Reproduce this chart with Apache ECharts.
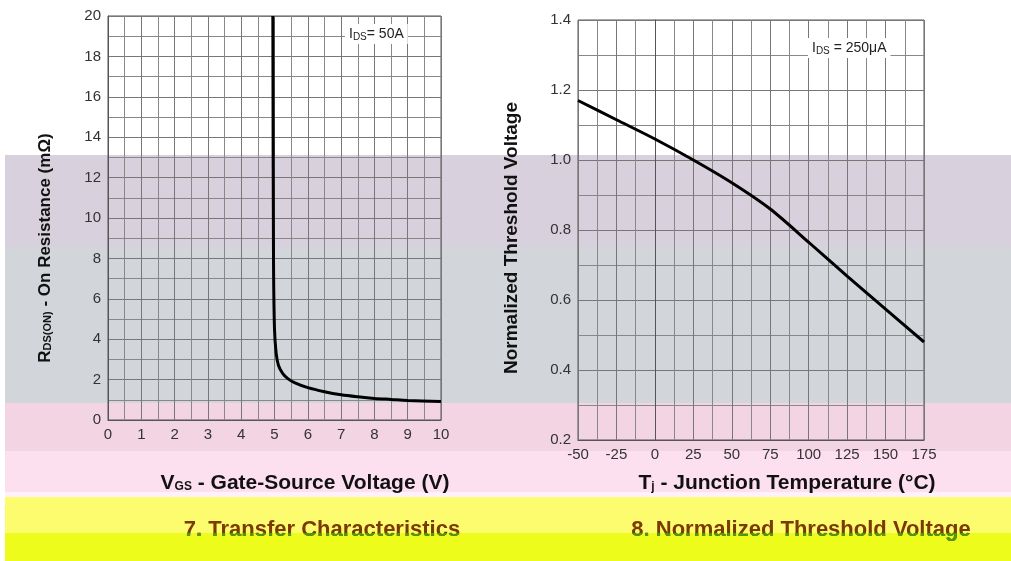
<!DOCTYPE html>
<html>
<head>
<meta charset="utf-8">
<script src="https://cdn.jsdelivr.net/npm/echarts@6/dist/echarts.min.js"></script>
<style>
  html, body { margin: 0; padding: 0; background: #fff; }
  #chart { width: 1011px; height: 561px; }
</style>
</head>
<body>
<div id="chart"></div>
<script>
// fig 7: on resistance vs gate-source voltage
const vgs = [4.95, 4.97, 5.0, 5.05, 5.12, 5.25, 5.4, 5.6, 6.0, 6.5, 7.0, 7.5, 8.0, 8.5, 9.0, 10.0];
const rdsOn = [20, 8, 4.5, 3.3, 2.7, 2.3, 2.05, 1.85, 1.6, 1.4, 1.25, 1.15, 1.07, 1.02, 0.97, 0.92];

// fig 8: normalized threshold voltage vs junction temperature
const tj = [-50, -25, 0, 25, 50, 75, 100, 125, 150, 175];
const vthNorm = [1.17, 1.115, 1.06, 1.0, 0.935, 0.86, 0.765, 0.668, 0.574, 0.48];

const titles = ['7. Transfer Characteristics', '8. Normalized Threshold Voltage'];

// background strips
const bands = [
  [155, 247, '#d8d0dc'],
  [247, 403, '#d2d5da'],
  [403, 451, '#f2d4e2'],
  [451, 492, '#fde0f0'],
  [492, 497, '#fff0fa'],
  [497, 533, '#fdfc6e'],
  [533, 561, '#eefc1c']
];

const font = '"Liberation Sans", Arial, sans-serif';
const chart = echarts.init(document.getElementById('chart'));

function xAx(gridIndex, min, max, interval) {
  return {
    type: 'value', gridIndex, min, max, interval,
    axisLine: { show: true, lineStyle: { color: '#555', width: 1 } },
    axisTick: { show: false },
    axisLabel: { color: '#333', fontSize: 15, fontFamily: font, margin: 7 },
    splitLine: { show: true, lineStyle: { color: '#777', width: 1 } },
    minorTick: { show: true, splitNumber: 2, length: 0 },
    minorSplitLine: { show: true, lineStyle: { color: '#888', width: 1 } }
  };
}
function yAx(gridIndex, min, max, interval, fmt) {
  return {
    type: 'value', gridIndex, min, max, interval,
    axisLine: { show: true, lineStyle: { color: '#555', width: 1 } },
    axisTick: { show: false },
    axisLabel: { color: '#333', fontSize: 15, fontFamily: font, margin: 7, formatter: fmt },
    splitLine: { show: true, lineStyle: { color: '#777', width: 1 } },
    minorTick: { show: true, splitNumber: 2, length: 0 },
    minorSplitLine: { show: true, lineStyle: { color: '#888', width: 1 } }
  };
}

// titles: brown on the yellow strip, green on the lime strip
function titleText(x, text) {
  return [
    { type: 'text', z: 100, x: x, y: 530, style: {
        text: text, fill: '#7a3a00', font: 'bold 22px ' + font, align: 'center', verticalAlign: 'middle' } },
    { type: 'group', z: 101, clipPath: { type: 'rect', shape: { x: -600, y: 3, width: 1200, height: 40 } },
      x: x, y: 530, children: [
        { type: 'text', z: 101, x: 0, y: 0, style: {
            text: text, fill: '#4c9a10', font: 'bold 22px ' + font, align: 'center', verticalAlign: 'middle' } }
      ] }
  ];
}

const sub = { fontSize: 12, fontWeight: 'bold', fontFamily: font, fill: '#111', padding: [7, 0, 0, 0] };

const graphics = bands.map(b => ({
  type: 'rect', z: -10, silent: true,
  shape: { x: 5, y: b[0], width: 1006, height: b[1] - b[0] },
  style: { fill: b[2] }
}));

graphics.push(
  { type: 'text', z: 100, x: 345, y: 24, style: {
      text: 'I{s|DS}= 50A', fill: '#222', font: '14px ' + font, backgroundColor: '#fff', padding: [2, 4],
      rich: { s: { fontSize: 10, verticalAlign: 'bottom', padding: [6, 0, 0, 0], fill: '#222', fontFamily: font } } } },
  { type: 'text', z: 100, x: 808, y: 38, style: {
      text: 'I{s|DS} = 250μA', fill: '#222', font: '14px ' + font, backgroundColor: '#fff', padding: [2, 4],
      rich: { s: { fontSize: 10, verticalAlign: 'bottom', padding: [6, 0, 0, 0], fill: '#222', fontFamily: font } } } },
  { type: 'text', z: 100, x: 45, y: 248, rotation: Math.PI / 2, style: {
      text: 'R{s|DS(ON)} - On Resistance (mΩ)', fill: '#111', font: 'bold 17px ' + font,
      align: 'center', verticalAlign: 'middle',
      rich: { s: { fontSize: 11, fontWeight: 'bold', fontFamily: font, fill: '#111', padding: [6, 0, 0, 0] } } } },
  { type: 'text', z: 100, x: 512, y: 238, rotation: Math.PI / 2, style: {
      text: 'Normalized Threshold Voltage', fill: '#111', font: 'bold 19px ' + font,
      align: 'center', verticalAlign: 'middle' } },
  { type: 'text', z: 100, x: 305, y: 483, style: {
      text: 'V{s|GS} - Gate-Source Voltage (V)', fill: '#111', font: 'bold 21px ' + font,
      align: 'center', verticalAlign: 'middle', rich: { s: sub } } },
  { type: 'text', z: 100, x: 787, y: 483, style: {
      text: 'T{s|j} - Junction Temperature (°C)', fill: '#111', font: 'bold 21px ' + font,
      align: 'center', verticalAlign: 'middle', rich: { s: sub } } },
  ...titleText(322, titles[0]),
  ...titleText(801, titles[1])
);

const option = {
  backgroundColor: '#fff',
  animation: false,
  grid: [
    { left: 108, top: 16, width: 333, height: 404, show: true, borderColor: '#555', borderWidth: 1 },
    { left: 578, top: 20, width: 346, height: 420, show: true, borderColor: '#555', borderWidth: 1 }
  ],
  xAxis: [ xAx(0, 0, 10, 1), xAx(1, -50, 175, 25) ],
  yAxis: [ yAx(0, 0, 20, 2), yAx(1, 0.2, 1.4, 0.2, v => v.toFixed(1)) ],
  series: [
    { type: 'line', xAxisIndex: 0, yAxisIndex: 0, data: vgs.map((v, i) => [v, rdsOn[i]]),
      smooth: 0.3, symbol: 'none', lineStyle: { color: '#000', width: 3 } },
    { type: 'line', xAxisIndex: 1, yAxisIndex: 1, data: tj.map((t, i) => [t, vthNorm[i]]),
      smooth: 0.3, symbol: 'none', lineStyle: { color: '#000', width: 3 } }
  ],
  graphic: graphics
};
chart.setOption(option);
</script>
</body>
</html>
